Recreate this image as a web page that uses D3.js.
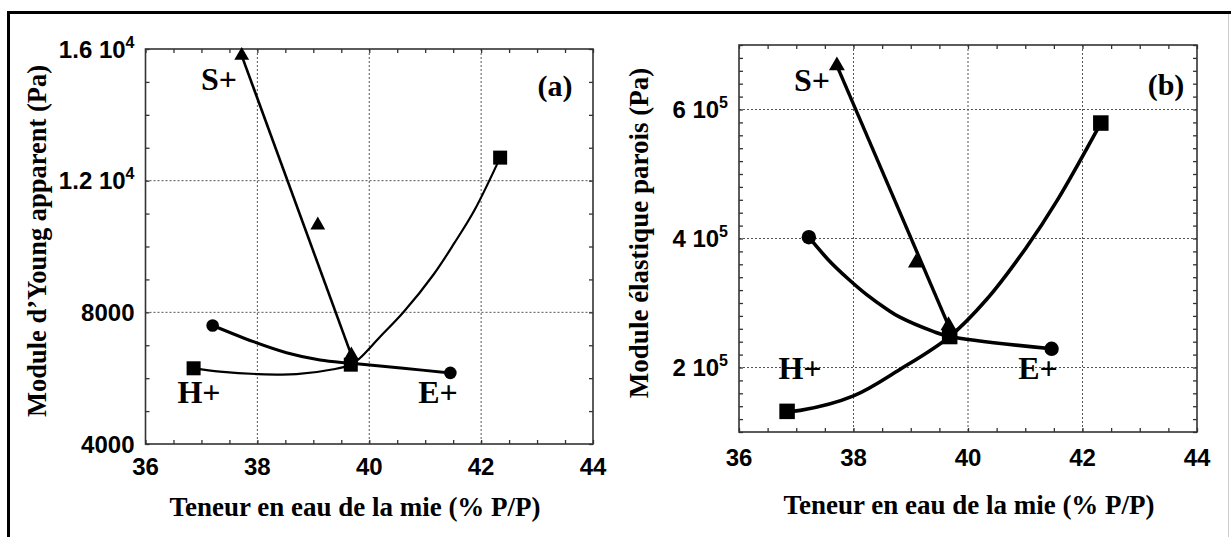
<!DOCTYPE html>
<html><head><meta charset="utf-8">
<script src="https://cdn.jsdelivr.net/npm/d3@7"></script>
<style>body{margin:0;background:#fff}svg{display:block}</style>
</head><body>
<svg id="c" width="1231" height="537"></svg>
<script>
// ---------- data ----------
const xTicks = [36, 38, 40, 42, 44];
const xGrid = [38, 40, 42];

// panel (a)
const yTicksA = [4000, 8000, 12000, 16000];
const yTickTextA = ["4000", "8000", "1.2 10", "1.6 10"];
const yTickSupA = ["", "", "4", "4"];
const yGridA = [8000, 12000];

const sPlusA_x = [37.72, 39.08, 39.68];
const sPlusA_y = [15800, 10650, 6700];
const hPlusA_x = [36.86, 39.67, 42.34];
const hPlusA_y = [6300, 6410, 12700];
const ePlusA_x = [37.2, 39.68, 41.45];
const ePlusA_y = [7600, 6450, 6160];

const sFitA_x = [37.72, 39.68];
const sFitA_y = [15800, 6700];
const hFitA_x = [36.86, 37.33, 37.99, 38.70, 39.36, 39.67, 39.83, 40.19, 40.61, 41.15, 41.52, 41.88, 42.34];
const hFitA_y = [6300, 6200, 6125, 6120, 6270, 6410, 6604, 7250, 8000, 9150, 10100, 11100, 12700];
const eFitA_x = [37.2, 37.93, 38.52, 39.12, 39.68, 40.61, 41.45];
const eFitA_y = [7600, 7108, 6774, 6552, 6450, 6300, 6160];

// panel (b)
const yTicksB = [200000, 400000, 600000];
const yTickTextB = ["2 10", "4 10", "6 10"];
const yTickSupB = ["5", "5", "5"];
const yGridB = [200000, 400000, 600000];

const sPlusB_x = [37.71, 39.09, 39.66];
const sPlusB_y = [668000, 362000, 265000];
const hPlusB_x = [36.84, 39.68, 42.32];
const hPlusB_y = [132000, 248000, 579000];
const ePlusB_x = [37.22, 39.68, 41.46];
const ePlusB_y = [402000, 250000, 229000];

const sFitB_x = [37.71, 39.66];
const sFitB_y = [668000, 265000];
const hFitB_x = [36.84, 37.07, 38.0, 38.81, 39.68, 40.32, 41.01, 41.55, 42.32];
const hFitB_y = [132000, 133500, 156000, 197000, 248000, 305000, 385000, 458000, 579000];
const eFitB_x = [37.22, 37.55, 37.9, 38.23, 38.59, 38.81, 39.39, 39.68, 41.46];
const eFitB_y = [402000, 368000, 338000, 313000, 290000, 278000, 256000, 248000, 229000];

const seriesLabels = ["S+", "H+", "E+"];

// ---------- drawing ----------
const svg = d3.select("#c");
const zip = (xs, ys) => xs.map((x, i) => [x, ys[i]]);
const SANS = "Liberation Sans, Arial, Helvetica, sans-serif";
const SERIF = "Liberation Serif, Times New Roman, Times, serif";

// outer frame
svg.append("path").attr("d", "M8.5,537 V12.5 H1231").attr("fill", "none")
  .attr("stroke", "#000").attr("stroke-width", 3);
svg.append("line").attr("x1", 1228.5).attr("x2", 1228.5).attr("y1", 14).attr("y2", 537)
  .attr("stroke", "#ccc").attr("stroke-width", 1);

function panel(cfg) {
  const g = svg.append("g");
  const x = d3.scaleLinear().domain([36, 44]).range([cfg.left, cfg.right]);
  const y = d3.scaleLinear().domain(cfg.yDomain).range([cfg.bottom, cfg.top]);

  // grid
  g.selectAll(null).data(xGrid).join("line")
    .attr("x1", d => x(d)).attr("x2", d => x(d)).attr("y1", cfg.top).attr("y2", cfg.bottom)
    .attr("stroke", "#555").attr("stroke-width", 1).attr("stroke-dasharray", "2,2");
  g.selectAll(null).data(cfg.yGrid).join("line")
    .attr("y1", d => y(d)).attr("y2", d => y(d)).attr("x1", cfg.left).attr("x2", cfg.right)
    .attr("stroke", "#555").attr("stroke-width", 1).attr("stroke-dasharray", "2,2");

  // axes with inside ticks
  const minorX = d3.range(36, 44.001, 0.5);
  const minorY = d3.range(cfg.yDomain[0], cfg.yDomain[1] + 1, cfg.yMinor);
  const axStyle = sel => {
    sel.select(".domain").remove();
    sel.selectAll("line").attr("stroke", "#333").attr("stroke-width", 1.3);
  };
  g.append("g").attr("transform", `translate(0,${cfg.bottom})`)
    .call(d3.axisBottom(x).tickValues(minorX).tickSize(-4).tickFormat("")).call(axStyle);
  g.append("g").attr("transform", `translate(0,${cfg.top})`)
    .call(d3.axisTop(x).tickValues(minorX).tickSize(-4).tickFormat("")).call(axStyle);
  g.append("g").attr("transform", `translate(${cfg.left},0)`)
    .call(d3.axisLeft(y).tickValues(minorY).tickSize(-4).tickFormat("")).call(axStyle);
  g.append("g").attr("transform", `translate(${cfg.right},0)`)
    .call(d3.axisRight(y).tickValues(minorY).tickSize(-4).tickFormat("")).call(axStyle);

  g.append("rect").attr("x", cfg.left).attr("y", cfg.top)
    .attr("width", cfg.right - cfg.left).attr("height", cfg.bottom - cfg.top)
    .attr("fill", "none").attr("stroke", "#333").attr("stroke-width", 1.6);

  // x tick labels
  g.selectAll(null).data(xTicks).join("text")
    .attr("x", d => x(d)).attr("y", cfg.xLabelY)
    .attr("text-anchor", "middle").attr("dominant-baseline", "central")
    .attr("font-family", SANS).attr("font-weight", "bold")
    .attr("font-size", 24).text(d => d);

  // y tick labels
  const yl = g.selectAll(null).data(cfg.yTicks).join("text")
    .attr("x", cfg.left - 11).attr("y", d => y(d) + 8.5)
    .attr("text-anchor", "end")
    .attr("font-family", SANS).attr("font-weight", "bold")
    .attr("font-size", 24);
  yl.append("tspan").text((d, i) => cfg.yText[i]);
  yl.append("tspan").attr("dy", -10).attr("font-size", 16).text((d, i) => cfg.ySup[i]);

  // fit curves
  const line = d3.line().x(d => x(d[0])).y(d => y(d[1])).curve(d3.curveCatmullRom.alpha(0.5));
  cfg.fits.forEach(f => {
    g.append("path").datum(f.pts).attr("d", line).attr("fill", "none")
      .attr("stroke", "#000").attr("stroke-width", f.w).attr("stroke-linejoin", "round");
  });

  // markers
  const ms = cfg.markerSize;
  g.selectAll(null).data(cfg.circles).join("circle")
    .attr("cx", d => x(d[0])).attr("cy", d => y(d[1])).attr("r", ms.c).attr("fill", "#000");
  g.selectAll(null).data(cfg.squares).join("rect")
    .attr("x", d => x(d[0]) - ms.s / 2).attr("y", d => y(d[1]) - ms.s / 2)
    .attr("width", ms.s).attr("height", ms.s).attr("fill", "#000");
  const tri = d3.symbol().type(d3.symbolTriangle).size(ms.t);
  g.selectAll(null).data(cfg.triangles).join("path")
    .attr("transform", d => `translate(${x(d[0])},${y(d[1])})`).attr("d", tri).attr("fill", "#000");

  // series labels
  cfg.labels.forEach((p, i) => {
    g.append("text").attr("x", p[0]).attr("y", p[1])
      .attr("text-anchor", "middle").attr("dominant-baseline", "central")
      .attr("font-family", SERIF).attr("font-weight", "bold")
      .attr("font-size", 32).text(seriesLabels[i]);
  });
  g.append("text").attr("x", cfg.tag[0]).attr("y", cfg.tag[1])
    .attr("text-anchor", "middle").attr("dominant-baseline", "central")
    .attr("font-family", SERIF).attr("font-weight", "bold")
    .attr("font-size", 30).text(cfg.tag[2]);

  // axis titles
  g.append("text").attr("x", cfg.xTitle[0]).attr("y", cfg.xTitle[1])
    .attr("text-anchor", "middle").attr("dominant-baseline", "central")
    .attr("font-family", SERIF).attr("font-weight", "bold")
    .attr("font-size", 27).text("Teneur en eau de la mie (% P/P)");
  g.append("text").attr("transform", `translate(${cfg.yTitle[0]},${cfg.yTitle[1]}) rotate(-90)`)
    .attr("text-anchor", "middle").attr("dominant-baseline", "central")
    .attr("font-family", SERIF).attr("font-weight", "bold")
    .attr("font-size", cfg.yTitle[3]).text(cfg.yTitle[2]);
}

panel({
  left: 145.5, right: 593, top: 49, bottom: 444,
  yDomain: [4000, 16000], yMinor: 1000,
  yTicks: yTicksA, yText: yTickTextA, ySup: yTickSupA, yGrid: yGridA,
  xLabelY: 466,
  fits: [
    { pts: zip(sFitA_x, sFitA_y), w: 2.6 },
    { pts: zip(hFitA_x, hFitA_y), w: 2.2 },
    { pts: zip(eFitA_x, eFitA_y), w: 3 }
  ],
  circles: zip(ePlusA_x, ePlusA_y),
  squares: zip(hPlusA_x, hPlusA_y),
  triangles: zip(sPlusA_x, sPlusA_y),
  markerSize: { c: 6.3, s: 14, t: 95 },
  labels: [[219, 79], [199, 392], [438, 392]],
  tag: [555, 85, "(a)"],
  xTitle: [355, 507],
  yTitle: [37, 241, "Module d\u2019Young apparent (Pa)", 26.5]
});

panel({
  left: 739, right: 1197, top: 45, bottom: 432,
  yDomain: [100000, 700000], yMinor: 20000,
  yTicks: yTicksB, yText: yTickTextB, ySup: yTickSupB, yGrid: yGridB,
  xLabelY: 457,
  fits: [
    { pts: zip(sFitB_x, sFitB_y), w: 3.4 },
    { pts: zip(hFitB_x, hFitB_y), w: 3.6 },
    { pts: zip(eFitB_x, eFitB_y), w: 3.6 }
  ],
  circles: zip(ePlusB_x, ePlusB_y),
  squares: zip(hPlusB_x, hPlusB_y),
  triangles: zip(sPlusB_x, sPlusB_y),
  markerSize: { c: 7.2, s: 15.5, t: 110 },
  labels: [[812, 80], [800, 368], [1038, 368]],
  tag: [1166, 84, "(b)"],
  xTitle: [969, 505],
  yTitle: [639, 233, "Module \u00e9lastique parois (Pa)", 27]
});
</script>
</body></html>
